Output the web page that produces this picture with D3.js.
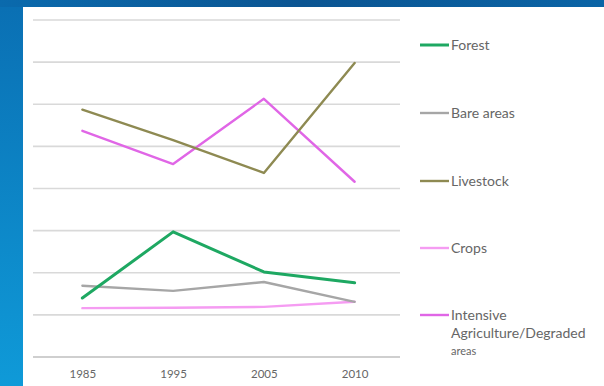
<!DOCTYPE html>
<html><head><meta charset="utf-8">
<script src="https://cdn.jsdelivr.net/npm/d3@7"></script>
<style>
html,body{margin:0;padding:0;}
body{width:604px;height:386px;overflow:hidden;}
</style></head>
<body>
<svg id="c" width="604" height="386"></svg>
<script>
const years = ["1985","1995","2005","2010"];
const seriesNames = ["Forest","Bare areas","Livestock","Crops","Intensive Agriculture/Degraded areas"];
const forest = [14.0, 29.7, 20.2, 17.6];
const bareAreas = [16.9, 15.7, 17.8, 13.1];
const livestock = [58.7, 51.5, 43.7, 69.8];
const crops = [11.6, 11.7, 11.9, 13.1];
const intensive = [53.7, 45.8, 61.3, 41.6];
const yTicks = [0,10,20,30,40,50,60,70,80];
const colors = ["#1ea862","#a6a6a6","#8e8a52","#f59cf2","#e066e6"];

const svg = d3.select("#c");
const defs = svg.append("defs");
const lg = defs.append("linearGradient").attr("id","bg").attr("x1","0").attr("y1","0").attr("x2","0").attr("y2","1");
lg.append("stop").attr("offset","0").attr("stop-color","#0a6fb3");
lg.append("stop").attr("offset","1").attr("stop-color","#0f9ad8");
const tg = defs.append("linearGradient").attr("id","tb").attr("x1","0").attr("y1","0").attr("x2","1").attr("y2","0");
tg.append("stop").attr("offset","0").attr("stop-color","#0a6aad");
tg.append("stop").attr("offset","0.5").attr("stop-color","#0b5592");
tg.append("stop").attr("offset","1").attr("stop-color","#0a64a6");

svg.append("rect").attr("width",604).attr("height",386).attr("fill","url(#bg)");
svg.append("rect").attr("width",604).attr("height",7).attr("fill","url(#tb)");
svg.append("rect").attr("x",23).attr("y",7).attr("width",581).attr("height",379).attr("fill","#ffffff");

const x = d3.scalePoint().domain(years).range([37,400]).padding(0.5);
const y = d3.scaleLinear().domain([0,80]).range([357,20]);

const font = "Lato, 'Open Sans', sans-serif";

// gridlines
svg.append("g").selectAll("line").data(yTicks).join("line")
  .attr("x1",33).attr("x2",400)
  .attr("y1",d=>y(d)).attr("y2",d=>y(d))
  .attr("stroke",d=>d===0?"#bfbfbf":"#d9d9d9").attr("stroke-width",1.6);

// x axis labels
const xa = svg.append("g").attr("transform","translate(0,357)")
  .call(d3.axisBottom(x).tickSize(0).tickPadding(13));
xa.select(".domain").remove();
xa.selectAll("text").attr("font-family",font)
  .attr("font-size",11.5).attr("fill","#666666");

const data = [forest,bareAreas,livestock,crops,intensive];
const line = d3.line().x((d,i)=>x(years[i])).y(d=>y(d));
const order = [3,1,0,4,2];
svg.append("g").selectAll("path").data(order).join("path")
  .attr("d",k=>line(data[k])).attr("fill","none")
  .attr("stroke",k=>colors[k]).attr("stroke-width",k=>k===0?3:2.4)
  .attr("stroke-linejoin","round").attr("stroke-linecap","round");

// legend
const legY = [45,113,181,248,315];
const leg = svg.append("g");
seriesNames.forEach((n,i)=>{
  leg.append("line").attr("x1",420).attr("x2",449).attr("y1",legY[i]).attr("y2",legY[i])
    .attr("stroke",colors[i]).attr("stroke-width",i===0?3:2.4);
  const t = leg.append("text").attr("x",451).attr("y",legY[i]+5)
    .attr("font-family",font)
    .attr("font-size",14).attr("fill","#666666");
  if(i===4){
    ["Intensive","Agriculture/Degraded","areas"].forEach((s,j)=>{
      t.append("tspan").attr("x",451).attr("dy",j===0?0:17.5).attr("font-size",j===2?11:14).text(s);
    });
  } else t.text(n);
});
</script>
</body></html>
